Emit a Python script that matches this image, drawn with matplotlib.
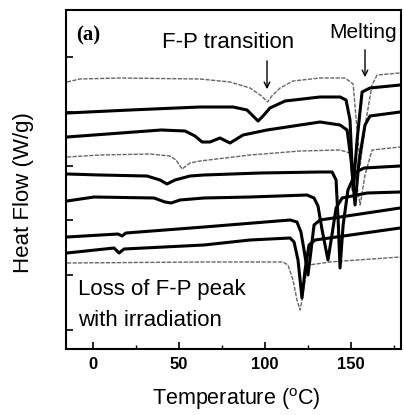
import matplotlib
matplotlib.use('Agg')
from matplotlib import pyplot as plt

plt.rcParams['font.family'] = ['Liberation Sans', 'DejaVu Sans']
plt.rcParams['mathtext.fontset'] = 'custom'
plt.rcParams['mathtext.rm'] = 'Liberation Sans'

# DSC traces, temperature (C) vs heat flow (arbitrary offset units), top to bottom
t1 = [-14.9, -7.4, 15.9, 62.3, 79.7, 91.4, 98.0, 101.5, 104.0, 108.8, 116.3, 132.0, 146.5, 151.2, 155.3, 158.7, 162.2, 165.1, 178.5]
h1 = [26.7, 27.0, 27.1, 27.0, 26.7, 26.1, 25.3, 24.7, 25.3, 26.1, 26.8, 27.1, 27.1, 26.5, 18.4, 22.9, 26.4, 27.4, 27.6]

t2 = [-14.9, 21.7, 62.3, 81.5, 89.6, 93.1, 96.0, 98.9, 102.9, 111.7, 132.0, 143.6, 147.1, 149.4, 151.2, 153.5, 156.4, 161.0, 178.5]
h2 = [23.6, 23.9, 24.2, 24.2, 23.9, 23.3, 22.8, 23.3, 24.1, 24.8, 25.2, 25.2, 24.9, 22.9, 15.9, 20.9, 25.7, 26.1, 26.4]

t3 = [-14.9, 0.8, 39.7, 53.6, 59.4, 63.5, 68.1, 73.9, 79.7, 87.3, 101.2, 132.0, 143.6, 147.7, 150.0, 152.3, 154.7, 158.1, 161.0, 178.5]
h3 = [21.2, 21.4, 21.9, 21.8, 21.3, 20.7, 20.7, 21.1, 20.6, 21.4, 21.9, 22.7, 22.4, 21.9, 18.9, 14.4, 18.9, 22.4, 23.3, 23.7]

t4 = [-14.9, 4.2, 33.3, 44.9, 48.4, 51.9, 56.5, 62.3, 91.4, 120.4, 143.6, 149.4, 152.3, 155.3, 158.1, 162.2, 178.5]
h4 = [19.2, 19.4, 19.5, 19.3, 18.9, 18.0, 18.6, 18.8, 19.4, 19.8, 19.9, 19.6, 17.4, 14.4, 17.4, 19.9, 20.2]

t5 = [-14.9, 4.2, 31.5, 39.1, 43.1, 47.8, 56.5, 64.6, 97.2, 132.0, 139.0, 141.3, 142.5, 143.6, 145.4, 148.2, 152.9, 157.6, 178.5]
h5 = [17.5, 17.4, 17.3, 16.9, 16.5, 16.9, 17.3, 17.4, 17.6, 17.7, 17.7, 16.9, 12.9, 8.1, 12.4, 15.9, 17.7, 18.1, 18.3]

t6 = [-14.9, 0.8, 35.6, 42.0, 45.5, 50.7, 64.6, 91.4, 124.4, 128.5, 130.8, 133.2, 136.6, 138.9, 141.3, 144.8, 159.3, 178.5]
h6 = [14.8, 15.2, 15.1, 14.7, 14.6, 14.9, 15.1, 15.2, 15.4, 15.1, 14.3, 11.9, 8.9, 11.4, 14.1, 15.1, 15.6, 15.7]

t7 = [-14.9, 14.7, 17.0, 19.3, 64.6, 114.6, 118.6, 120.9, 122.7, 125.0, 126.8, 128.5, 132.0, 178.5]
h7 = [11.2, 11.5, 11.3, 11.6, 12.2, 12.9, 12.7, 11.7, 9.9, 7.4, 9.9, 12.4, 12.9, 14.1]

t8 = [-14.9, 12.4, 15.3, 18.2, 64.6, 91.4, 114.6, 116.9, 119.2, 121.5, 123.3, 125.6, 129.1, 178.5]
h8 = [9.6, 10.1, 9.6, 10.0, 10.4, 10.9, 11.1, 10.7, 8.9, 5.1, 7.9, 10.4, 10.9, 12.1]

t9 = [-14.9, 64.6, 110.5, 113.4, 116.3, 118.6, 120.4, 122.1, 123.8, 125.6, 137.8, 178.5]
h9 = [8.6, 8.7, 8.7, 8.4, 6.9, 4.9, 3.9, 5.4, 7.4, 8.4, 8.7, 9.2]

thick = [(t2, h2), (t3, h3), (t5, h5), (t6, h6), (t7, h7), (t8, h8)]
thin = [(t1, h1), (t4, h4), (t9, h9)]

fig = plt.figure(figsize=(4.04, 4.15), dpi=100)
ax = fig.add_axes([66/404, 1 - 349/415, 335/404, 339/415])

for t, h in thin:
    ax.plot(t, h, color='0.4', lw=1.0, ls=(0, (3, 1)))
for t, h in thick:
    ax.plot(t, h, color='k', lw=2.2, solid_joinstyle='round')

ax.set_xlim(-15.5, 179)
ax.set_ylim(0, 33.9)
ax.set_xticks([0, 50, 100, 150])
ax.set_xticks([25, 75, 125, 175], minor=True)
ax.set_yticks([1.9, 7.4, 12.9, 18.3, 23.7, 29.2])
ax.set_yticklabels([])
ax.tick_params(direction='in', length=5, width=1.2, labelsize=12, pad=6)
ax.tick_params(which='minor', direction='in', length=3, width=1.0)
for lab in ax.get_xticklabels():
    lab.set_fontweight('bold')
for s in ax.spines.values():
    s.set_linewidth(1.5)

ax.text(-9.8, 31.4, '(a)', family='Liberation Serif', fontsize=15, fontweight='bold', va='center')
ax.text(78.5, 30.6, 'F-P transition', fontsize=16, ha='center', va='center')
ax.text(157, 31.6, 'Melting', fontsize=15, ha='center', va='center')
ax.annotate('', xy=(101.2, 25.7), xytext=(101.2, 29.1),
            arrowprops=dict(arrowstyle='->', lw=1.0, color='k'))
ax.annotate('', xy=(158.1, 26.9), xytext=(158.1, 30.2),
            arrowprops=dict(arrowstyle='->', lw=1.0, color='k'))
ax.text(-8.5, 5.9, 'Loss of F-P peak', fontsize=16, va='center')
ax.text(-8.5, 2.9, 'with irradiation', fontsize=16, va='center')

fig.text(24/404, 1 - 193/415, 'Heat Flow (W/g)', fontsize=16, rotation=90, ha='center', va='center')
fig.text(236/404, 1 - 405/415, 'Temperature ($^{\\mathrm{o}}$C)', fontsize=15.5, ha='center', va='baseline')

fig.savefig('out.png', dpi=100)
